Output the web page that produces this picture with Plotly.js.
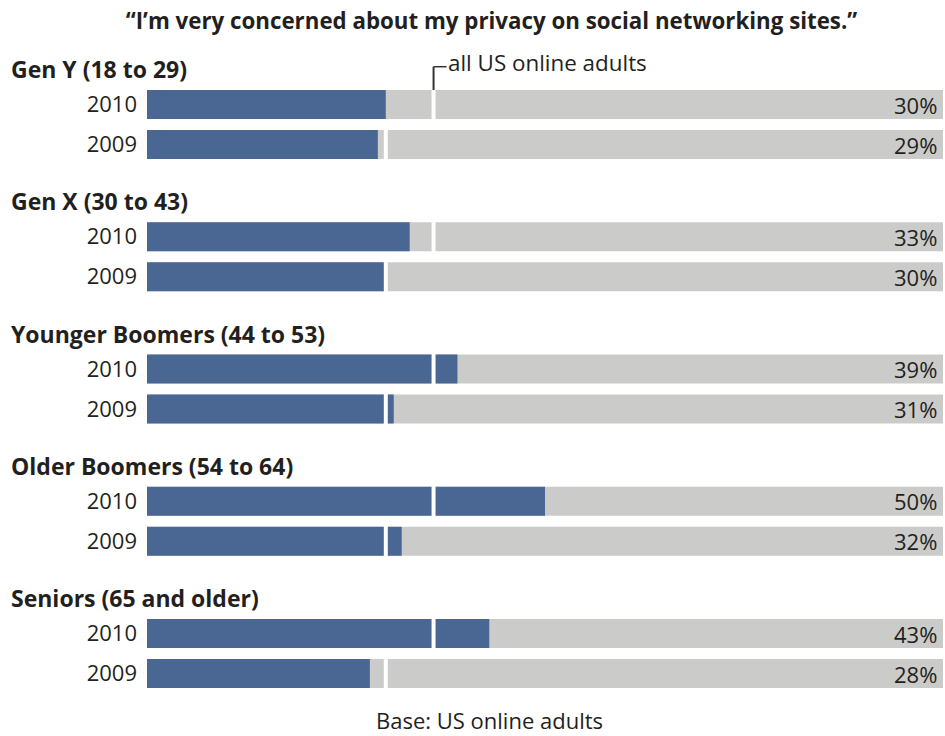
<!DOCTYPE html>
<html>
<head>
<meta charset="utf-8">
<script src="https://cdn.plot.ly/plotly-3.0.1.min.js"></script>
<style>html,body{margin:0;padding:0;background:#fff;}#chart{width:945px;height:736px;}</style>
</head>
<body>
<div id="chart"></div>
<script>
// ---- data ----
const groups = ["Gen Y (18 to 29)", "Gen X (30 to 43)", "Younger Boomers (44 to 53)", "Older Boomers (54 to 64)", "Seniors (65 and older)"];
const years = ["2010", "2009"];
const values2010 = [30, 33, 39, 50, 43];
const values2009 = [29, 30, 31, 32, 28];
const allAdultsValues = [36, 30]; // per year, same order as `years`
const chartTitle = "\u201cI\u2019m very concerned about my privacy on social networking sites.\u201d";
const footnote = "Base: US online adults";
const markerLabel = "all US online adults";

// ---- layout constants ----
const FONT = "'Open Sans', Lato, sans-serif";
const TXT = "#231f20";
const BLUE = "#4a6794";
const GREY = "#cbcbc9";
const FIRST = 104.5, GROUP_GAP = 132.25, YEAR_GAP = 40, BAR_H = 29, HEAD_OFF = 35.5;
const PLOT_L = 147, PLOT_W = 796;

const rowY = [], rowVal = [], rowYear = [], rowAll = [];
groups.forEach((g, gi) => {
  const vals = [values2010[gi], values2009[gi]];
  years.forEach((yr, yi) => {
    rowY.push(FIRST + gi * GROUP_GAP + yi * YEAR_GAP);
    rowVal.push(vals[yi]);
    rowYear.push(yr);
    rowAll.push(allAdultsValues[yi]);
  });
});

const traces = [
  { type: "bar", orientation: "h", x: rowY.map(() => 100), y: rowY, width: BAR_H,
    marker: { color: GREY }, hoverinfo: "skip", showlegend: false },
  { type: "bar", orientation: "h", x: rowVal, y: rowY, width: BAR_H,
    marker: { color: BLUE }, hoverinfo: "skip", showlegend: false },
  { type: "scatter", mode: "markers", x: rowAll, y: rowY,
    marker: { symbol: "line-ns", size: BAR_H, line: { color: "#ffffff", width: 4 } },
    hoverinfo: "skip", showlegend: false }
];

const annotations = [];
rowY.forEach((y, i) => {
  annotations.push({ x: 100, y: y, xref: "x", yref: "y", text: rowVal[i] + "%",
    xanchor: "right", yanchor: "middle", xshift: -4, showarrow: false,
    font: { family: FONT, size: 22, color: TXT } });
});
groups.forEach((g, gi) => {
  annotations.push({ x: 0, y: FIRST + gi * GROUP_GAP - HEAD_OFF, xref: "paper", yref: "y", text: g,
    xanchor: "left", yanchor: "middle", xshift: -138, showarrow: false,
    font: { family: FONT, size: 23, color: TXT, weight: "bold" } });
});
const topY = FIRST - BAR_H / 2;
const bracketY = topY - 23.3;
annotations.push({ x: allAdultsValues[0], y: bracketY - 4.5, xref: "x", yref: "y", text: markerLabel,
  xanchor: "left", yanchor: "middle", xshift: 12, showarrow: false,
  font: { family: FONT, size: 22.4, color: TXT } });
annotations.push({ x: (489 - PLOT_L) / PLOT_W, y: 720, xref: "paper", yref: "y", text: footnote,
  xanchor: "center", yanchor: "middle", showarrow: false,
  font: { family: FONT, size: 22, color: TXT } });

const shapes = [
  { type: "line", xref: "x", yref: "y", x0: allAdultsValues[0], x1: allAdultsValues[0], y0: topY, y1: bracketY,
    line: { color: "#333", width: 2 } },
  { type: "line", xref: "x", yref: "y", x0: allAdultsValues[0], x1: allAdultsValues[0] + 13 / PLOT_W * 100, y0: bracketY, y1: bracketY,
    line: { color: "#333", width: 1.5 } }
];

const layout = {
  width: 945, height: 736,
  margin: { l: PLOT_L, r: 945 - PLOT_L - PLOT_W, t: 0, b: 0 },
  paper_bgcolor: "#ffffff", plot_bgcolor: "#ffffff",
  barmode: "overlay",
  showlegend: false,
  font: { family: FONT, color: TXT },
  title: { text: chartTitle, x: 491.5 / 945, xref: "container", xanchor: "center",
    y: 1 - 21.5 / 736, yref: "container", yanchor: "middle",
    font: { family: FONT, size: 22.3, color: TXT, weight: "bold" } },
  xaxis: { range: [0, 100], showgrid: false, zeroline: false, showticklabels: false, ticks: "", fixedrange: true },
  yaxis: { range: [736, 0], showgrid: false, zeroline: false, ticks: "",
    tickmode: "array", tickvals: rowY, ticktext: rowYear, ticklabelstandoff: 9,
    tickfont: { family: FONT, size: 22, color: TXT }, fixedrange: true },
  annotations: annotations,
  shapes: shapes
};

Plotly.newPlot("chart", traces, layout, { staticPlot: true, displayModeBar: false });
</script>
</body>
</html>
